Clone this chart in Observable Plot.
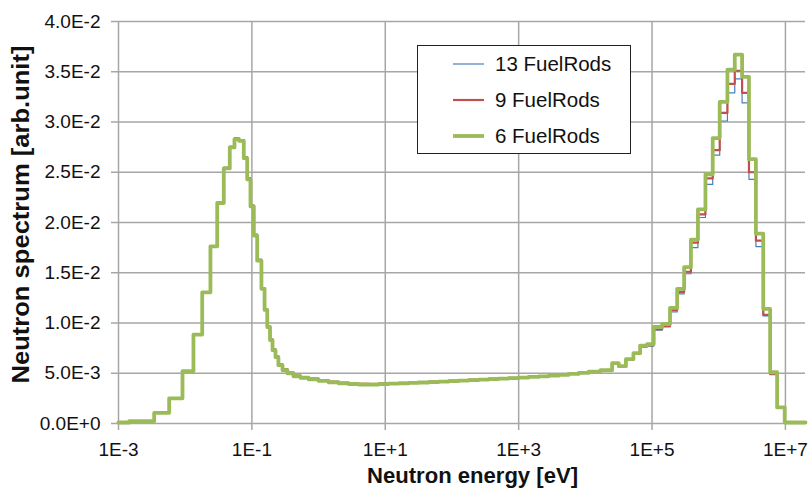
<!DOCTYPE html>
<html>
<head>
<meta charset="utf-8">
<script src="https://cdn.jsdelivr.net/npm/d3@7"></script>
<script src="https://cdn.jsdelivr.net/npm/@observablehq/plot@0.6"></script>
<style>
  body { margin: 0; background: #fff; }
  #wrap { position: relative; width: 812px; height: 490px; font-family: "Liberation Sans", Arial, sans-serif; }
  #legend { position: absolute; left: 417px; top: 45px; }
</style>
</head>
<body>
<div id="wrap">
  <div id="chart"></div>
  <svg id="legend" width="215" height="110"></svg>
</div>
<script>
// ---- data ----
const seriesNames = ["13 FuelRods", "9 FuelRods", "6 FuelRods"];

// energy bin edges [eV]
const energyEdges = [
  1.0e-3, 1.45e-3, 3.43e-3, 5.75e-3, 9.11e-3, 1.33e-2, 1.80e-2, 2.39e-2, 3.02e-2, 3.79e-2,
  4.66e-2, 5.48e-2, 6.41e-2, 7.56e-2, 8.50e-2, 9.53e-2, 0.107, 0.120, 0.139, 0.155,
  0.170, 0.187, 0.204, 0.226, 0.250, 0.288, 0.342, 0.420, 0.535, 0.706,
  1.0, 1.41, 2.0, 2.82, 3.98, 5.62, 7.94, 11.2, 15.8, 22.4,
  31.6, 44.7, 63.1, 89.1, 126, 178, 251, 355, 501, 708,
  1000, 1410, 2000, 2820, 3980, 5620, 7940, 11200,
  16800, 25200, 31700, 40600, 52600, 66300, 84400, 1.06e5, 1.42e5, 1.86e5,
  2.38e5, 3.03e5, 3.83e5, 4.88e5, 6.32e5, 8.13e5, 1.035e6, 1.35e6, 1.74e6, 2.24e6,
  2.84e6, 3.61e6, 4.65e6, 5.90e6, 7.51e6, 9.76e6, 2.0e7
];

// group-wise spectrum [arb.unit], one value per bin
const spectrum6 = [
  0.0001, 0.00023, 0.00106, 0.00251, 0.0052, 0.00885, 0.01305, 0.01763, 0.02194, 0.02538,
  0.02747, 0.0283, 0.02813, 0.0264, 0.0243, 0.0216, 0.0187, 0.0162, 0.0134, 0.0113,
  0.0096, 0.0083, 0.0073, 0.0066, 0.0058, 0.0053, 0.0050, 0.0047, 0.00455, 0.0044,
  0.00425, 0.0041, 0.0040, 0.00393, 0.00388, 0.00388, 0.00392, 0.00396, 0.0040, 0.00404,
  0.00408, 0.00412, 0.00417, 0.00422, 0.00427, 0.00432, 0.00437, 0.00442, 0.00447, 0.00452,
  0.00457, 0.00463, 0.00469, 0.00476, 0.00484, 0.00493, 0.00503, 0.00515,
  0.0053, 0.0060, 0.0057, 0.0064, 0.0070, 0.00775, 0.0079, 0.0096, 0.0099, 0.0115,
  0.0134, 0.01555, 0.0183, 0.0213, 0.0248, 0.0284, 0.0320, 0.0352, 0.0367, 0.0345,
  0.0263, 0.0189, 0.0114, 0.0051, 0.0016, 0.0001
];
const spectrum9 = [
  0.0001, 0.00023, 0.00106, 0.00251, 0.0052, 0.00885, 0.01305, 0.01766, 0.02198, 0.02543,
  0.02752, 0.02836, 0.0282, 0.02648, 0.02438, 0.02168, 0.01878, 0.01628, 0.01348, 0.01138,
  0.00968, 0.00838, 0.00738, 0.00668, 0.00588, 0.00538, 0.00507, 0.00477, 0.00462, 0.00447,
  0.00431, 0.00416, 0.00406, 0.00398, 0.00394, 0.00393, 0.00397, 0.00401, 0.00405, 0.00408,
  0.00412, 0.00417, 0.00421, 0.00426, 0.00431, 0.00436, 0.0044, 0.00446, 0.0045, 0.00455,
  0.0046, 0.00466, 0.00472, 0.00479, 0.00487, 0.00496, 0.00505, 0.00517,
  0.0053, 0.0060, 0.0057, 0.0064, 0.0070, 0.0077, 0.0078, 0.0094, 0.0097, 0.0113,
  0.0131, 0.0151, 0.0180, 0.0208, 0.0244, 0.0272, 0.0309, 0.0338, 0.0351, 0.0329,
  0.0250, 0.0182, 0.0108, 0.0049, 0.0016, 0.0001
];
const spectrum13 = [
  0.0001, 0.00023, 0.00106, 0.00251, 0.0052, 0.00885, 0.01306, 0.01768, 0.02202, 0.02548,
  0.02758, 0.02842, 0.02826, 0.02655, 0.02445, 0.02174, 0.01884, 0.01634, 0.01353, 0.01143,
  0.00972, 0.00842, 0.00742, 0.00672, 0.00592, 0.00542, 0.0051, 0.0048, 0.00465, 0.00449,
  0.00434, 0.00418, 0.00408, 0.004, 0.00395, 0.00395, 0.00399, 0.00402, 0.00407, 0.0041,
  0.00414, 0.00418, 0.00423, 0.00428, 0.00432, 0.00437, 0.00442, 0.00447, 0.00452, 0.00457,
  0.00461, 0.00467, 0.00473, 0.0048, 0.00488, 0.00497, 0.00506, 0.00518,
  0.0053, 0.0060, 0.0057, 0.0064, 0.0070, 0.0076, 0.0077, 0.0093, 0.0096, 0.0111,
  0.0129, 0.0149, 0.0175, 0.0205, 0.0238, 0.0267, 0.0301, 0.0329, 0.0343, 0.0319,
  0.0243, 0.0176, 0.0107, 0.0049, 0.0016, 0.0001
];

const xTicks = [1e-3, 1e-1, 1e1, 1e3, 1e5, 1e7];
const xTickLabels = ["1E-3", "1E-1", "1E+1", "1E+3", "1E+5", "1E+7"];
const yTicks = [0, 0.005, 0.01, 0.015, 0.02, 0.025, 0.03, 0.035, 0.04];
const yTickLabels = ["0.0E+0", "5.0E-3", "1.0E-2", "1.5E-2", "2.0E-2", "2.5E-2", "3.0E-2", "3.5E-2", "4.0E-2"];

const xTitle = "Neutron energy [eV]";
const yTitle = "Neutron spectrum [arb.unit]";

// ---- styles ----
const seriesStyle = [
  {color: "#4a7ebb", width: 1.2},
  {color: "#c0504d", width: 2.2},
  {color: "#9bbb59", width: 3.8}
];
const gridColor = "#a6a6a6";

// build step points
function stepPoints(values, name) {
  const pts = values.map((v, i) => ({E: energyEdges[i], v, name}));
  pts.push({E: energyEdges[values.length], v: values[values.length - 1], name});
  return pts;
}
const seriesValues = [spectrum13, spectrum9, spectrum6];

const xFmt = new Map(xTicks.map((t, i) => [t, xTickLabels[i]]));
const yFmt = new Map(yTicks.map((t, i) => [t, yTickLabels[i]]));

const chart = Plot.plot({
  width: 812,
  height: 490,
  marginLeft: 118,
  marginRight: 7,
  marginTop: 21,
  marginBottom: 67,
  style: {fontFamily: '"Liberation Sans", Arial, sans-serif', fontSize: "19px", background: "#fff", color: "#111"},
  x: {type: "log", domain: [1e-3, 2e7]},
  y: {domain: [0, 0.04]},
  marks: [
    Plot.gridY(yTicks, {stroke: gridColor, strokeOpacity: 1, strokeWidth: 1.5}),
    Plot.gridX(xTicks, {stroke: gridColor, strokeOpacity: 1, strokeWidth: 1.5}),
    Plot.axisY(yTicks, {tickSize: 7, tickPadding: 11, tickFormat: d => yFmt.get(d), stroke: gridColor, strokeWidth: 1.5, fill: "#111", fontSize: 19, label: null}),
    Plot.axisX(xTicks, {tickSize: 7, tickPadding: 12, tickFormat: d => xFmt.get(d), stroke: gridColor, strokeWidth: 1.5, fill: "#111", fontSize: 19, label: null}),
    ...seriesValues.map((vals, k) =>
      Plot.line(stepPoints(vals, seriesNames[k]), {
        x: "E", y: "v", curve: "step-after",
        stroke: seriesStyle[k].color, strokeWidth: seriesStyle[k].width
      })
    ),
    Plot.text([xTitle], {text: d => d, frameAnchor: "bottom", dx: 10.5, dy: 59, lineAnchor: "bottom", fontSize: 22, fontWeight: "bold", fill: "#111"}),
    Plot.text([yTitle], {text: d => d, frameAnchor: "left", rotate: -90, dx: -97, dy: -8, fontSize: 23, fontWeight: "bold", fill: "#111"})
  ]
});
document.getElementById("chart").appendChild(chart);

// stretch the titles to the reference's lengths
chart.querySelectorAll("text").forEach(t => {
  if (t.textContent === yTitle) {
    t.setAttribute("text-anchor", "start");
    t.setAttribute("x", -169);
    t.setAttribute("textLength", 338);
    t.setAttribute("lengthAdjust", "spacingAndGlyphs");
  }
  if (t.textContent === xTitle) {
    t.setAttribute("textLength", 211);
    t.setAttribute("lengthAdjust", "spacingAndGlyphs");
  }
});

// legend
const leg = d3.select("#legend");
leg.append("rect").attr("x", 0.5).attr("y", 0.5).attr("width", 213).attr("height", 108)
  .attr("fill", "#fff").attr("stroke", "#222").attr("stroke-width", 1);
seriesNames.forEach((name, k) => {
  const cy = 19 + k * 36;
  leg.append("line").attr("x1", 36).attr("x2", 67).attr("y1", cy).attr("y2", cy)
    .attr("stroke", seriesStyle[k].color).attr("stroke-width", seriesStyle[k].width);
  leg.append("text").attr("x", 78).attr("y", cy).attr("dy", "0.35em")
    .attr("font-size", 20.5).attr("fill", "#111")
    .attr("font-family", '"Liberation Sans", Arial, sans-serif').text(name);
});
</script>
</body>
</html>
